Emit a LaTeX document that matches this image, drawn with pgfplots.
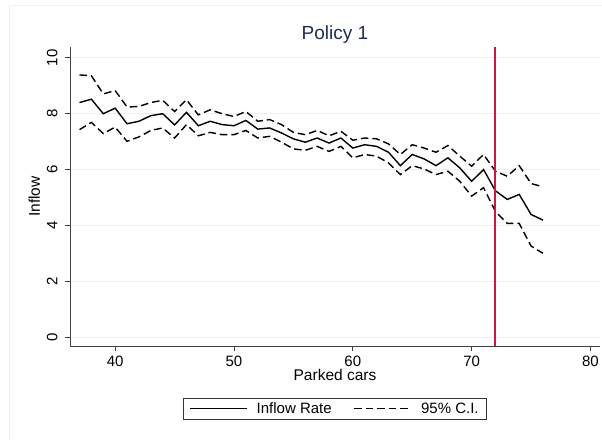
\documentclass[border=0pt]{standalone}
\usepackage{pgfplots}
\pgfplotsset{compat=1.18}
\usepackage{fontspec}
\setmainfont{Liberation Sans}

\definecolor{gridc}{RGB}{232,240,242}
\definecolor{titlec}{RGB}{30,45,83}
\definecolor{vline}{RGB}{204,22,68}
\definecolor{framec}{RGB}{236,242,244}

% x, estimate, upper and lower 95% bounds
\pgfplotstableread{
x  est   hi    lo
37 8.40  9.39  7.43
38 8.52  9.36  7.69
39 8.00  8.71  7.29
40 8.20  8.83  7.52
41 7.64  8.24  7.01
42 7.73  8.26  7.17
43 7.93  8.40  7.40
44 8.00  8.48  7.49
45 7.60  8.08  7.13
46 8.05  8.50  7.61
47 7.57  7.96  7.21
48 7.73  8.14  7.33
49 7.61  8.00  7.25
50 7.57  7.90  7.25
51 7.76  8.08  7.40
52 7.45  7.73  7.13
53 7.49  7.79  7.19
54 7.31  7.61  6.98
55 7.10  7.33  6.74
56 6.98  7.25  6.69
57 7.13  7.40  6.83
58 6.95  7.21  6.65
59 7.13  7.37  6.83
60 6.77  7.05  6.42
61 6.89  7.13  6.54
62 6.83  7.10  6.48
63 6.62  6.92  6.24
64 6.14  6.54  5.82
65 6.54  6.89  6.14
66 6.38  6.77  6.02
67 6.14  6.62  5.82
68 6.42  6.86  5.94
69 6.06  6.48  5.58
70 5.58  6.12  5.05
71 6.00  6.54  5.35
72 5.24  5.94  4.50
73 4.93  5.76  4.07
74 5.11  6.14  4.07
75 4.39  5.50  3.26
76 4.19  5.38  3.00
}\ci

\begin{document}
\begin{tikzpicture}[x=1pt,y=1pt]
\useasboundingbox (0,0) rectangle (602,439);
\draw[framec, line width=1pt] (9,-2) rectangle (604,433);
\node[font=\fontsize{19}{22}\selectfont, text=titlec] at (335,404) {Policy 1};
\begin{axis}[
    at={(70pt,93pt)}, anchor=south west,
    scale only axis, width=530pt, height=299pt,
    xmin=36.2, xmax=80.8, ymin=-0.32, ymax=10.39,
    axis lines=left, axis line style={-, line width=0.9pt, black!75},
    xtick={40,50,60,70,80}, ytick={0,2,4,6,8,10},
    tick style={line width=0.9pt, black!75},
    tick align=outside, major tick length=5pt,
    ymajorgrids, grid style={gridc, line width=1pt},
    /pgf/number format/assume math mode=true,
    tick label style={font=\fontsize{15}{17}\selectfont},
    yticklabel style={rotate=90, anchor=south, yshift=4pt},
    xticklabel style={yshift=-1pt},
    label style={font=\fontsize{15.5}{17}\selectfont},
    xlabel={Parked cars}, ylabel={Inflow},
    xlabel style={yshift=4pt},
    ylabel style={yshift=0pt},
    legend columns=2,
    legend style={at={(0.5,-0.21)}, anchor=center, draw=black!80, line width=0.8pt,
        font=\fontsize{15}{17}\selectfont, inner xsep=6pt, inner ysep=2pt,
        /tikz/every odd column/.append style={column sep=7pt},
        /tikz/every even column/.append style={column sep=20pt}},
    legend image code/.code={\draw[#1] (0pt,0pt) -- (57pt,0pt);},
]
\addplot[black, line width=1.4pt] table[x=x, y=est] {\ci};
\addlegendentry{Inflow Rate}
\addplot[black, line width=1.4pt, dash pattern=on 7.5pt off 4pt] table[x=x, y=hi] {\ci};
\addlegendentry{95\% C.I.}
\addplot[black, line width=1.4pt, dash pattern=on 7.5pt off 4pt, forget plot] table[x=x, y=lo] {\ci};
\addplot[color=vline, draw=vline, line width=2pt, forget plot] coordinates {(72,-0.32) (72,10.39)};
\end{axis}
\end{tikzpicture}
\end{document}
